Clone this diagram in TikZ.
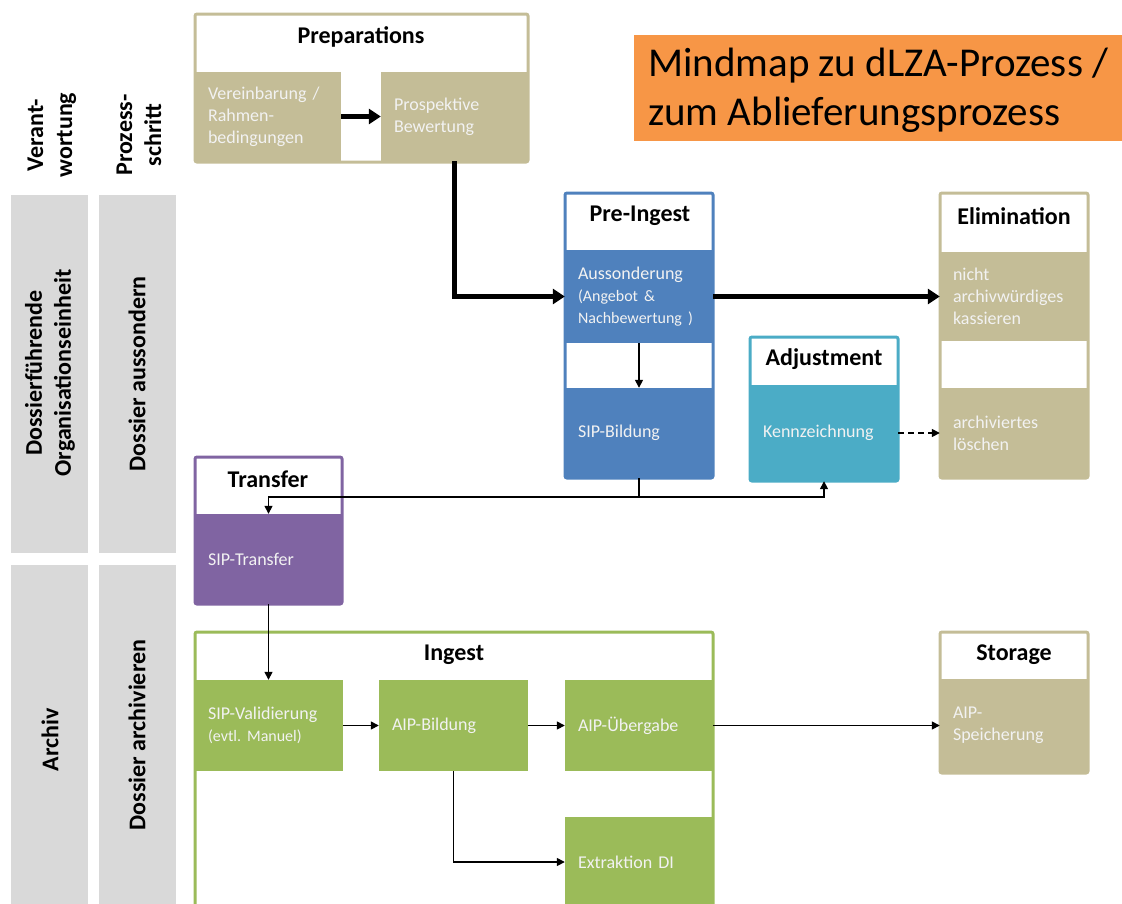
\documentclass[tikz,border=0pt]{standalone}
\usepackage{fontspec}
\setmainfont{Carlito}
\usetikzlibrary{arrows.meta}
\definecolor{tanc}{HTML}{C4BD97}
\definecolor{bluec}{HTML}{4F81BD}
\definecolor{tealc}{HTML}{4BACC6}
\definecolor{purpc}{HTML}{8064A2}
\definecolor{greenc}{HTML}{9BBB59}
\definecolor{orangec}{HTML}{F79646}
\definecolor{grayc}{HTML}{D9D9D9}
\definecolor{txtc}{HTML}{F2F2F2}
\frenchspacing
\begin{document}
\begin{tikzpicture}[x=1pt,y=-1pt,
  fr/.style={draw=#1, line width=3pt, fill=white, rounded corners=2pt, inner sep=0pt},
  bx/.style={rectangle, fill=#1, inner xsep=13pt, inner ysep=0pt, align=left, text=txtc, font=\fontsize{18}{22}\selectfont},
  hd/.style={font=\bfseries\fontsize{24}{29}\selectfont, inner sep=0pt},
  gb/.style={rectangle, fill=grayc, inner sep=0pt},
  lb/.style={font=\bfseries\fontsize{24}{29}\selectfont, rotate=90, align=center, inner sep=0pt},
  thk/.style={line width=5pt, -{Triangle[length=12pt,width=15pt]}},
  thn/.style={line width=1.5pt, -{Triangle[length=8pt,width=8pt]}}]
\useasboundingbox (0,0) rectangle (1122,903);
\clip (0,0) rectangle (1122,903);
% left columns
\node[gb, minimum width=77pt, minimum height=358pt] (g1) at (49.5,374) {};
\node[gb, minimum width=77pt, minimum height=358pt] (g2) at (137.5,374) {};
\node[gb, minimum width=77pt, minimum height=345pt] (g3) at (49.5,737.5) {};
\node[gb, minimum width=77pt, minimum height=345pt] (g4) at (137.5,737.5) {};
\node[lb] (h1) at (52,135) {Verant-\\wortung};
\node[lb] (h2) at (139,135) {Prozess-\\schritt};
\node[lb] (l1) at (50,373) {Dossierführende\\Organisationseinheit};
\node[lb] (l2) at (137,374) {Dossier aussondern};
\node[lb] (l3) at (50,740) {Archiv};
\node[lb] (l4) at (137,735) {Dossier archivieren};
% title
\node[rectangle, fill=orangec, minimum width=488pt, minimum height=106pt, inner sep=0pt] (title) at (878,88) {};
\node[anchor=west, inner sep=0pt, align=left, font=\fontsize{41}{49}\selectfont] (titletext) at (648,90.5) {Mindmap zu dLZA-Prozess /\\zum Ablieferungsprozess};
% frames
\node[fr=tanc, minimum width=333pt, minimum height=148pt] (prepF) at (361.5,88) {};
\node[fr=bluec, minimum width=148pt, minimum height=285pt] (preF) at (639,335.5) {};
\node[fr=tanc, minimum width=148pt, minimum height=285pt] (elimF) at (1014,335.5) {};
\node[fr=tealc, minimum width=148pt, minimum height=144pt] (adjF) at (824,409) {};
\node[fr=purpc, minimum width=147pt, minimum height=147pt] (transF) at (268.5,530.5) {};
\node[fr=greenc, minimum width=518pt, minimum height=298pt] (ingF) at (454,781) {};
\node[fr=tanc, minimum width=148pt, minimum height=141pt] (storF) at (1014,702.5) {};
% headers
\node[hd] (tprep) at (361,37) {Preparations};
\node[hd] (tpre) at (640,216) {Pre-Ingest};
\node[hd] (telim) at (1014,216) {Elimination};
\node[hd] (tadj) at (824,359) {Adjustment};
\node[hd] (ttrans) at (268,479) {Transfer};
\node[hd] (ting) at (454,655) {Ingest};
\node[hd] (tstor) at (1014,655) {Storage};
% sub boxes
\node[bx=tanc, minimum width=146pt, minimum height=89pt, text width=120pt] (vereinb) at (268,116.5) {Vereinbarung /\\Rahmen-\\bedingungen};
\node[bx=tanc, minimum width=147pt, minimum height=89pt, text width=121pt] (prosp) at (454.5,116.5) {Prospektive\\Bewertung};
\node[bx=bluec, minimum width=148pt, minimum height=93pt, text width=122pt] (aussond) at (639,296.5) {Aussonderung\\{\fontsize{16}{22}\selectfont(Angebot \&}\\{\fontsize{16}{22}\selectfont Nachbewertung )}};
\node[bx=bluec, minimum width=148pt, minimum height=90pt, text width=122pt] (sipb) at (639,433) {SIP-Bildung};
\node[bx=tealc, minimum width=148pt, minimum height=96pt, text width=122pt] (kennz) at (824,433) {Kennzeichnung};
\node[bx=tanc, minimum width=148pt, minimum height=89pt, text width=122pt] (nicht) at (1014,296.5) {nicht\\archivwürdiges\\kassieren};
\node[bx=tanc, minimum width=148pt, minimum height=90pt, text width=122pt] (archiv) at (1014,433) {archiviertes\\löschen};
\node[bx=purpc, minimum width=147pt, minimum height=90pt, text width=121pt] (sipt) at (268.5,559) {SIP-Transfer};
\node[bx=greenc, minimum width=148pt, minimum height=91pt, text width=122pt] (sipv) at (269,725.5) {SIP-Validierung\\{\fontsize{16}{22}\selectfont(evtl. Manuel)}};
\node[bx=greenc, minimum width=149pt, minimum height=91pt, text width=123pt] (aipb) at (453.5,725.5) {AIP-Bildung};
\node[bx=greenc, minimum width=148pt, minimum height=91pt, text width=122pt] (aipu) at (639,725.5) {AIP-Übergabe};
\node[bx=greenc, minimum width=148pt, minimum height=90pt, text width=122pt] (extr) at (639,862) {Extraktion DI};
\node[bx=tanc, minimum width=148pt, minimum height=93pt, text width=122pt] (aips) at (1014,725.5) {AIP-\\Speicherung};
% connectors
\draw[thk] (vereinb.east) -- (prosp.west);
\draw[thk] (prosp.south) |- (aussond.west);
\draw[thk] (aussond.east) -- (nicht.west);
\draw[thn] (aussond.south) -- (sipb.north);
\draw[thn, dash pattern=on 6pt off 4pt] (kennz.east) -- (archiv.west);
\coordinate (j) at (639,497);
\draw[thn] (sipb.south) -- (j) -| (sipt.north);
\draw[thn] (j) -| (kennz.south);
\draw[thn] (sipt.south) -- (sipt.south |- sipv.north);
\draw[thn] (sipv.east) -- (aipb.west);
\draw[thn] (aipb.east) -- (aipu.west);
\draw[thn] (aipb.south) |- (extr.west);
\draw[thn] (aipu.east) -- (aips.west);
\end{tikzpicture}
\end{document}
